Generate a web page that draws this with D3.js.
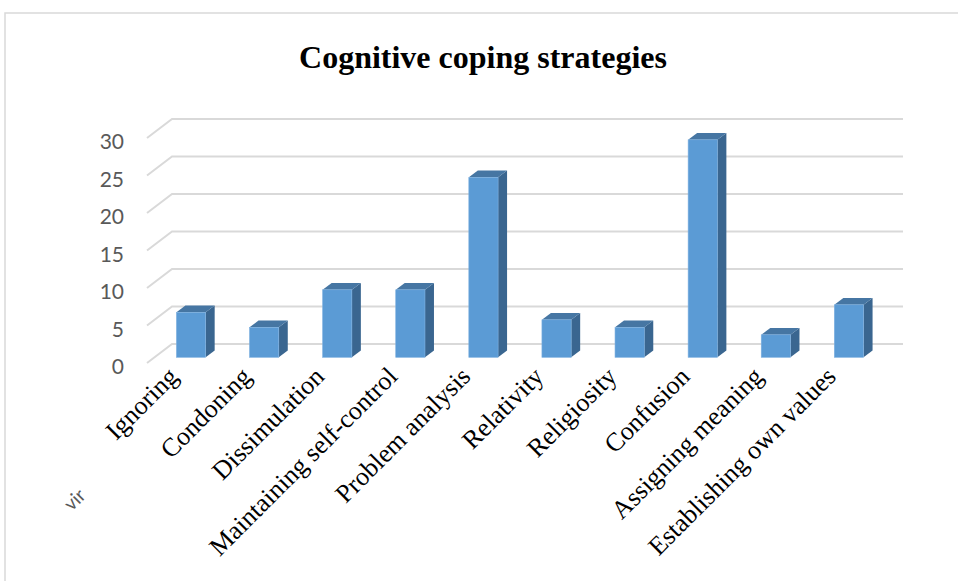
<!DOCTYPE html>
<html>
<head>
<meta charset="utf-8">
<script src="https://cdn.jsdelivr.net/npm/d3@7"></script>
<style>
html,body{margin:0;padding:0;background:#fff;}
svg{display:block;}
</style>
</head>
<body>
<svg id="chart" width="958" height="581"></svg>
<script>
const categories = ["Ignoring","Condoning","Dissimulation","Maintaining self-control","Problem analysis","Relativity","Religiosity","Confusion","Assigning meaning","Establishing own values"];
const values = [6,4,9,9,24,5,4,29,3,7];
const yTicks = [0,5,10,15,20,25,30];
const title = "Cognitive coping strategies";
const strayLabel = "vir";

const svg = d3.select("#chart");
const W = 958, H = 581;

// frame
svg.append("path").attr("d", `M5,${H} L5,13 L${W},13`).attr("fill","none").attr("stroke","#D9D9D9").attr("stroke-width",1.5);

const x = d3.scaleBand().domain(categories).range([172, 903]).paddingInner(0).paddingOuter(0);
const y = d3.scaleLinear().domain([0,30]).range([344,119]);
const depthX = -25, depthY = 19; // back -> front offset

// gridlines (back wall + side wall diagonal)
const grid = svg.append("g");
yTicks.forEach(t => {
  const yb = y(t);
  grid.append("path")
    .attr("d", `M${x.range()[0]+depthX},${yb+depthY} L${x.range()[0]},${yb} L${x.range()[1]},${yb}`)
    .attr("fill","none").attr("stroke","#D9D9D9").attr("stroke-width",2);
  svg.append("text")
    .attr("x", 124).attr("y", yb + depthY + 2.5)
    .attr("text-anchor","end").attr("dominant-baseline","central")
    .attr("font-family","Lato, 'Open Sans', sans-serif").attr("font-size",21)
    .attr("fill","#595959").text(t);
});

// bars
const frontFrac = 0.7; // bar front face position from back wall
const barDepth = 0.36;
const bw = x.bandwidth()*0.4;
const bars = svg.append("g");
categories.forEach((c,i) => {
  const v = values[i];
  const cx = x(c) + x.bandwidth()/2 + depthX*frontFrac;
  const x0 = cx - bw/2, x1 = cx + bw/2;
  const yb = y(0) + depthY*frontFrac;
  const yt = y(v) + depthY*frontFrac;
  const ddx = -depthX*barDepth, ddy = -depthY*barDepth;
  // side
  bars.append("path")
    .attr("d", `M${x1},${yt} L${x1+ddx},${yt+ddy} L${x1+ddx},${yb+ddy} L${x1},${yb} Z`)
    .attr("fill","#3A6690");
  // top
  bars.append("path")
    .attr("d", `M${x0},${yt} L${x0+ddx},${yt+ddy} L${x1+ddx},${yt+ddy} L${x1},${yt} Z`)
    .attr("fill","#4676A3");
  // front
  bars.append("rect")
    .attr("x", x0).attr("y", yt).attr("width", bw).attr("height", yb-yt)
    .attr("fill","#5B9BD5").attr("stroke","#7DB0E0").attr("stroke-width",0.6);
});

// category labels
categories.forEach(c => {
  const fx = x(c) + x.bandwidth()/2 + depthX - 4;
  const fy = 378;
  svg.append("text")
    .attr("transform", `translate(${fx},${fy}) rotate(-45)`)
    .attr("text-anchor","end")
    .attr("font-family","'Liberation Serif', 'Times New Roman', serif")
    .attr("font-size",26).attr("fill","#000").text(c);
});

// stray clipped label
svg.append("text")
  .attr("transform","translate(74,499) rotate(-45)")
  .attr("text-anchor","middle").attr("dominant-baseline","central")
  .attr("font-family","Lato, 'Open Sans', sans-serif")
  .attr("font-size",19).attr("fill","#595959").text(strayLabel);

// title
svg.append("text")
  .attr("x", 483).attr("y", 68)
  .attr("text-anchor","middle")
  .attr("font-family","'Liberation Serif', 'Times New Roman', serif")
  .attr("font-weight","bold").attr("font-size",32).attr("fill","#000").text(title);
</script>
</body>
</html>
